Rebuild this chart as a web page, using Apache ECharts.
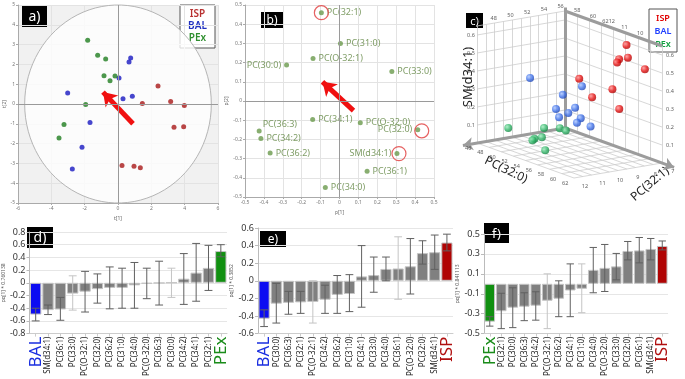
<!DOCTYPE html>
<html>
<head>
<meta charset="utf-8">
<script src="https://cdn.jsdelivr.net/npm/echarts@6.0.0/dist/echarts.min.js"></script>
<style>
    html, body {margin: 0; padding: 0; background: #fff;}
    #main {width: 685px; height: 379px;}
</style>
</head>
<body>
<div id="main"></div>
<script>
'use strict';

// ---------- a) scores t[1] / t[2] ----------
const scoreISP = [[2.4, 0.91], [3.16, 0.12], [3.98, -0.07], [1.46, 0.02], [3.36, -1.18], [3.94, -1.15], [0.24, -3.1], [0.96, -3.15], [1.34, -3.22]];
const scoreBAL = [[0.76, 2.32], [0.66, 2.12], [0.06, 1.31], [-3.02, 0.56], [0.3, 0.27], [0.86, 0.39], [-1.68, -0.93], [-2.16, -2.19], [-2.74, -3.28]];
const scorePEx = [[-1.82, 3.22], [-1.22, 2.46], [-0.74, 2.27], [-0.84, 1.43], [-0.18, 1.41], [-0.48, 1.18], [-1.94, -0.02], [-3.24, -1.04], [-3.54, -1.72]];
const ellipseR = [5.6, 5.0];
const arrowA = [[0.9, -1.0], [-0.9, 0.6]];

// ---------- b) loadings p[1] / p[2] ----------
const loadNames = ['PC(32:1)', 'PC(31:0)', 'PC(O-32:1)', 'PC(30:0)', 'PC(33:0)', 'PC(34:1)', 'PC(O-32:0)', 'PC(36:3)', 'PC(32:0)', 'PC(34:2)', 'PC(36:2)', 'SM(d34:1)', 'PC(36:1)', 'PC(34:0)'];
const loadX = [-0.096, 0.005, -0.14, -0.28, 0.277, -0.142, 0.11, -0.425, 0.414, -0.416, -0.367, 0.304, 0.146, -0.075];
const loadY = [0.46, 0.30, 0.222, 0.187, 0.153, -0.097, -0.113, -0.156, -0.15, -0.195, -0.271, -0.274, -0.366, -0.45];
const circled = ['PC(32:1)', 'PC(32:0)', 'SM(d34:1)'];
const arrowB = [[0.074, -0.05], [-0.09, 0.10]];

// ---------- c) 3D: PC(32:0), PC(32:1), SM(d34:1) ----------
const c3dISP = [[57.6, 7.5, 0.61], [57.1, 7.75, 0.53], [57.1, 7.25, 0.53], [57.5, 8.0, 0.52], [59.9, 7.25, 0.50], [52.7, 8.5, 0.38], [56.0, 7.75, 0.35], [54.1, 8.25, 0.29], [56.4, 7.5, 0.24]];
const c3dBAL = [[50.4, 10.5, 0.39], [54.6, 9.0, 0.37], [52.9, 9.5, 0.31], [54.2, 9.25, 0.25], [52.5, 9.75, 0.23], [53.8, 9.5, 0.22], [53.0, 9.75, 0.19], [54.4, 9.0, 0.19], [54.5, 9.25, 0.17], [55.3, 8.75, 0.15]];
const c3dPEx = [[49.7, 11.5, 0.12], [52.7, 10.5, 0.14], [55.3, 10.5, 0.17], [56.3, 10.5, 0.17], [53.8, 11.0, 0.11], [53.3, 11.25, 0.10], [53.7, 11.5, 0.10], [55.8, 11.5, 0.07]];
const cUTicks = [46, 48, 50, 52, 54, 56, 58, 60, 62];
const cVTicks = [7, 8, 9, 10, 11, 12];
const cWTicks = [0.1, 0.2, 0.3, 0.4, 0.5, 0.6];
const cTopLeft = ['46', '48', '50', '52', '54', '56'];
const cTopRight = ['58', '60', '6212', '11', '10'];

// ---------- d) BAL vs PEx ----------
const dCats = ['BAL', 'SM(d34:1)', 'PC(36:1)', 'PC(33:0)', 'PC(O-32:1)', 'PC(32:0)', 'PC(36:2)', 'PC(31:0)', 'PC(34:0)', 'PC(O-32:0)', 'PC(36:3)', 'PC(30:0)', 'PC(34:2)', 'PC(34:1)', 'PC(32:1)', 'PEx'];
const dVals = [-0.50, -0.43, -0.42, -0.17, -0.14, -0.10, -0.08, -0.08, -0.04, -0.015, -0.005, 0.003, 0.065, 0.16, 0.235, 0.50];
const dLow = [-0.60, -0.50, -0.59, -0.43, -0.46, -0.32, -0.41, -0.40, -0.40, -0.25, -0.35, -0.23, -0.34, -0.29, -0.12, 0.41];
const dHigh = [-0.40, -0.35, -0.23, 0.11, 0.18, 0.14, 0.25, 0.23, 0.32, 0.23, 0.34, 0.23, 0.46, 0.62, 0.59, 0.60];

// ---------- e) BAL vs ISP ----------
const eCats = ['BAL', 'PC(30:0)', 'PC(36:3)', 'PC(32:1)', 'PC(O-32:1)', 'PC(34:2)', 'PC(36:2)', 'PC(31:0)', 'PC(34:1)', 'PC(33:0)', 'PC(34:0)', 'PC(36:1)', 'PC(O-32:0)', 'PC(32:0)', 'SM(d34:1)', 'ISP'];
const eVals = [-0.43, -0.26, -0.25, -0.245, -0.24, -0.215, -0.16, -0.15, 0.05, 0.065, 0.135, 0.14, 0.165, 0.315, 0.325, 0.435];
const eLow = [-0.52, -0.48, -0.38, -0.37, -0.48, -0.37, -0.37, -0.35, -0.30, -0.13, 0.0, -0.21, -0.15, 0.19, 0.13, 0.34];
const eHigh = [-0.33, -0.03, -0.12, -0.12, 0.0, -0.05, 0.06, 0.07, 0.40, 0.27, 0.27, 0.50, 0.48, 0.455, 0.52, 0.53];

// ---------- f) PEx vs ISP ----------
const fCats = ['PEx', 'PC(32:1)', 'PC(30:0)', 'PC(36:3)', 'PC(34:2)', 'PC(O-32:1)', 'PC(36:2)', 'PC(34:1)', 'PC(31:0)', 'PC(34:0)', 'PC(O-32:0)', 'PC(33:0)', 'PC(32:0)', 'PC(36:1)', 'SM(d34:1)', 'ISP'];
const fVals = [-0.38, -0.275, -0.24, -0.23, -0.22, -0.17, -0.15, -0.067, -0.05, 0.14, 0.16, 0.175, 0.33, 0.335, 0.35, 0.38];
const fLow = [-0.425, -0.45, -0.44, -0.37, -0.365, -0.45, -0.33, -0.33, -0.29, -0.09, -0.077, 0.04, 0.24, 0.21, 0.24, 0.34];
const fHigh = [-0.33, -0.095, -0.04, -0.09, -0.08, 0.10, 0.03, 0.20, 0.20, 0.365, 0.395, 0.305, 0.425, 0.465, 0.455, 0.43];

// ================= styles =================
const FONT = 'Noto Sans';
const groupColor = {ISP: '#a81818', BAL: '#1818c0', PEx: '#1f7d1f'};
const barColor = {BAL: '#0c0cf2', PEx: '#119011', ISP: '#b00404'};
const labelColor = {BAL: '#1a2ee0', PEx: '#1a8c1a', ISP: '#b01010'};
const loadLabelPos = {'PC(30:0)': 'left', 'PC(32:0)': 'left', 'SM(d34:1)': 'left', 'PC(36:3)': [6, -9]};
const circleOffset = {'PC(32:0)': [4, 1], 'SM(d34:1)': [2, 0]};
const faintErr = [['PC(33:0)', 'PC(30:0)'], ['PC(O-32:1)', 'PC(36:1)'], ['PC(O-32:1)', 'PC(31:0)']];

let chart = echarts.init(document.getElementById('main'));

let fmt1 = v => Math.abs(v) < 1e-9 ? '0' : v.toFixed(1);
let tiny = {fontSize: 5, color: '#777', margin: 3};

//散点图坐标轴
function scatterAxis(gi, min, max, step, name, gap) {
    return {
        gridIndex: gi, type: 'value', min: min, max: max, interval: step,
        axisLine: {show: true, onZero: false, lineStyle: {color: '#aaa'}},
        axisTick: {show: true, length: 2, lineStyle: {color: '#aaa'}},
        axisLabel: Object.assign({formatter: v => Math.abs(v) < 1e-9 ? '0' : (step < 1 ? v.toFixed(1) : String(v))}, tiny),
        splitLine: {show: true, lineStyle: {color: '#e3e3e3'}},
        name: name, nameLocation: 'middle', nameGap: gap,
        nameTextStyle: {fontSize: 5, color: '#666'}
    };
}

//柱状图坐标轴
function barXAxis(gi, cats) {
    return {
        gridIndex: gi, type: 'category', data: cats,
        axisLine: {show: true, onZero: false, lineStyle: {color: '#ccc'}},
        axisTick: {show: true, alignWithLabel: true, length: 3, lineStyle: {color: '#ccc'}},
        axisLabel: {
            interval: 0, rotate: 90, fontSize: 8, color: '#222', margin: 3,
            formatter: v => barColor[v] ? '{' + v + '|' + v + '}' : v,
            rich: {
                BAL: {fontSize: 17, color: labelColor.BAL},
                PEx: {fontSize: 17, color: labelColor.PEx},
                ISP: {fontSize: 17, color: labelColor.ISP}
            }
        }
    };
}

function barYAxis(gi, min, max, name) {
    return {
        gridIndex: gi, type: 'value', min: min, max: max, interval: 0.2,
        axisLine: {show: true, lineStyle: {color: '#bbb'}},
        axisTick: {show: true, length: 3, lineStyle: {color: '#bbb'}},
        axisLabel: {fontSize: 9, color: '#333', margin: 4, formatter: fmt1, showMaxLabel: true},
        splitLine: {show: true, lineStyle: {color: '#e6e6e6'}},
        name: name, nameLocation: 'middle', nameGap: 22, nameRotate: 90,
        nameTextStyle: {fontSize: 5, color: '#555'}
    };
}

//误差线
function errSeries(gi, cats, lo, hi, faint) {
    return {
        type: 'custom', xAxisIndex: gi, yAxisIndex: gi, z: 4,
        data: cats.map((c, i) => [i, lo[i], hi[i]]),
        encode: {x: 0, y: [1, 2]},
        renderItem: function (params, api) {
            let i = api.value(0);
            let p1 = api.coord([i, api.value(1)]);
            let p2 = api.coord([i, api.value(2)]);
            let hw = api.size([1, 0])[0] * 0.32;
            let style = {stroke: faint.indexOf(cats[i]) >= 0 ? '#c4c4c4' : '#606060', lineWidth: 1};
            return {
                type: 'group', children: [
                    {type: 'line', shape: {x1: p1[0], y1: p1[1], x2: p2[0], y2: p2[1]}, style: style},
                    {type: 'line', shape: {x1: p1[0] - hw, y1: p1[1], x2: p1[0] + hw, y2: p1[1]}, style: style},
                    {type: 'line', shape: {x1: p2[0] - hw, y1: p2[1], x2: p2[0] + hw, y2: p2[1]}, style: style}
                ]
            };
        }
    };
}

function barSeries(gi, cats, vals) {
    return {
        type: 'bar', xAxisIndex: gi, yAxisIndex: gi, barCategoryGap: '8%',
        data: cats.map((c, i) => ({name: c, value: vals[i]})),
        itemStyle: {
            color: p => barColor[p.name] || '#808080',
            borderColor: '#c4c4c4', borderWidth: 1
        }
    };
}

// 3D 投影(伪透视)
function P(u, v, w) {
    let a = (u - 46) / 16, b = (v - 7) / 5;
    return [565 + 97 * a - 88 * b, 128 + 35 * a + 15 * b - 180 * w];
}
const wTop = 0.65;
let gridSegs = [];
for (let u = 46; u <= 62; u += 2) {
    gridSegs.push({coords: [P(u, 7, 0), P(u, 12, 0)]});
    gridSegs.push({coords: [P(u, 7, 0), P(u, 7, wTop)]});
}
for (let v = 7; v <= 12; v += 0.5) {
    gridSegs.push({coords: [P(46, v, 0), P(62, v, 0)]});
    gridSegs.push({coords: [P(46, v, 0), P(46, v, wTop)]});
}
cWTicks.concat([wTop]).forEach(w => {
    gridSegs.push({coords: [P(46, 7, w), P(46, 12, w)]});
    gridSegs.push({coords: [P(46, 7, w), P(62, 7, w)]});
});
let shift = (p, dx, dy) => [p[0] + dx, p[1] + dy];
let cLabels = [];
cUTicks.forEach(u => cLabels.push({name: String(u), value: shift(P(u, 12.5, 0), 0, 4)}));
cVTicks.forEach(v => cLabels.push({name: String(v), value: shift(P(63.8, v, 0), 0, 4)}));
cWTicks.forEach(w => {
    cLabels.push({name: w.toFixed(1), value: shift(P(46, 12, w), -6, 0)});
    cLabels.push({name: w.toFixed(1), value: shift(P(62, 7, w), 8, 0)});
});
cTopLeft.forEach((t, i) => cLabels.push({name: t, value: shift(P(46, 12 - i * 0.95, wTop), 0, -5)}));
cTopRight.forEach((t, i) => cLabels.push({name: t, value: shift(P(48 + i * 2.6, 7, wTop), 0, -5)}));

function sphere(c0, c1, c2) {
    return {
        type: 'radial', x: 0.35, y: 0.35, r: 0.75,
        colorStops: [{offset: 0, color: c0}, {offset: 0.55, color: c1}, {offset: 1, color: c2}]
    };
}

function tag(x, y, w, h, text, size) {
    return {
        type: 'group', x: x, y: y, children: [
            {type: 'rect', shape: {width: w, height: h}, style: {fill: '#000'}},
            {type: 'text', x: w / 2, y: h / 2 + 1, style: {text: text, fill: '#fff', font: size + 'px ' + FONT, align: 'center', verticalAlign: 'middle'}}
        ]
    };
}

function legendBox(x, y, w, h, size, colors, gap) {
    let kids = [{type: 'rect', shape: {width: w, height: h}, style: {fill: '#fff', stroke: '#555', lineWidth: 1}}];
    ['ISP', 'BAL', 'PEx'].forEach((n, i) => kids.push({
        type: 'text', x: w / 2, y: 9 + i * gap,
        style: {text: n, fill: colors[n], font: '600 ' + size + 'px ' + FONT, align: 'center', verticalAlign: 'middle'}
    }));
    return {type: 'group', x: x, y: y, children: kids};
}

let option = {
    animation: false,
    backgroundColor: '#fff',
    textStyle: {fontFamily: FONT},
    grid: [
        {left: 18, top: 5, width: 200, height: 198, show: true, backgroundColor: '#f1f1f1', borderWidth: 0},
        {left: 245, top: 5, width: 189, height: 192},
        {left: 450, top: 0, width: 235, height: 200},
        {left: 22, top: 232, width: 205, height: 105},
        {left: 258, top: 228, width: 195, height: 111},
        {left: 484, top: 234, width: 184, height: 102}
    ],
    xAxis: [
        scatterAxis(0, -6, 6, 2, 't[1]', 9),
        scatterAxis(1, -0.5, 0.5, 0.1, 'p[1]', 9),
        {gridIndex: 2, type: 'value', min: 450, max: 685, show: false},
        barXAxis(3, dCats),
        barXAxis(4, eCats),
        barXAxis(5, fCats)
    ],
    yAxis: [
        scatterAxis(0, -5, 5, 1, 't[2]', 9),
        scatterAxis(1, -0.5, 0.5, 0.1, 'p[2]', 14),
        {gridIndex: 2, type: 'value', min: 0, max: 200, inverse: true, show: false},
        barYAxis(3, -0.8, 0.8, 'pq[1] * 0.760138'),
        barYAxis(4, -0.6, 0.6, 'pq[1] * 0.3852'),
        barYAxis(5, -0.5, 0.5, 'pq[1] * 0.841113')
    ],
    series: [
        // a)
        {
            type: 'custom', xAxisIndex: 0, yAxisIndex: 0, z: 1, silent: true,
            data: [[0, 0]],
            renderItem: function (params, api) {
                let c = api.coord([0, 0]);
                let s = api.size(ellipseR);
                let pts = [];
                for (let k = 0; k <= 90; k++) {
                    let t = k / 90 * Math.PI * 2;
                    pts.push([c[0] + s[0] * Math.cos(t), c[1] + s[1] * Math.sin(t)]);
                }
                return {type: 'polygon', shape: {points: pts}, style: {fill: 'rgba(255,255,255,0.78)', stroke: '#b5b5b5', lineWidth: 1}};
            },
            markLine: {
                silent: true, symbol: 'none', label: {show: false},
                lineStyle: {color: '#9a9a9a', type: 'solid', width: 1},
                data: [{xAxis: 0}, {yAxis: 0}]
            }
        },
        {type: 'scatter', xAxisIndex: 0, yAxisIndex: 0, symbolSize: 5, z: 3, data: scoreISP, itemStyle: {color: groupColor.ISP}},
        {type: 'scatter', xAxisIndex: 0, yAxisIndex: 0, symbolSize: 5, z: 3, data: scoreBAL, itemStyle: {color: groupColor.BAL}},
        {type: 'scatter', xAxisIndex: 0, yAxisIndex: 0, symbolSize: 5, z: 3, data: scorePEx, itemStyle: {color: groupColor.PEx}},
        {
            type: 'lines', coordinateSystem: 'cartesian2d', xAxisIndex: 0, yAxisIndex: 0, z: 4,
            symbol: ['none', 'arrow'], symbolSize: 13,
            lineStyle: {color: '#f01010', width: 5, opacity: 1},
            data: [{coords: arrowA}]
        },
        // b)
        {
            type: 'scatter', xAxisIndex: 1, yAxisIndex: 1, symbolSize: 5, z: 3,
            itemStyle: {color: '#6a9a4c'},
            label: {show: true, formatter: '{b}', fontSize: 9, color: '#5f8440', distance: 3},
            data: loadNames.map((n, i) => ({
                name: n, value: [loadX[i], loadY[i]],
                label: {position: loadLabelPos[n] || 'right'}
            })),
            markLine: {
                silent: true, symbol: 'none', label: {show: false},
                lineStyle: {color: '#9a9a9a', type: 'solid', width: 1},
                data: [{xAxis: 0}, {yAxis: 0}]
            }
        },
        {
            type: 'scatter', xAxisIndex: 1, yAxisIndex: 1, symbolSize: 14, z: 4, silent: true,
            itemStyle: {color: 'rgba(0,0,0,0)', borderColor: '#e03a3a', borderWidth: 1.2},
            data: circled.map(n => {
                let i = loadNames.indexOf(n);
                return {value: [loadX[i], loadY[i]], symbolOffset: circleOffset[n] || [0, 0]};
            })
        },
        {
            type: 'lines', coordinateSystem: 'cartesian2d', xAxisIndex: 1, yAxisIndex: 1, z: 4,
            symbol: ['none', 'arrow'], symbolSize: 13,
            lineStyle: {color: '#f01010', width: 5, opacity: 1},
            data: [{coords: arrowB}]
        },
        // c)
        {
            type: 'lines', coordinateSystem: 'cartesian2d', xAxisIndex: 2, yAxisIndex: 2, z: 1, silent: true,
            lineStyle: {color: '#cdcdcd', width: 0.8, opacity: 1},
            data: gridSegs
        },
        {
            type: 'lines', coordinateSystem: 'cartesian2d', xAxisIndex: 2, yAxisIndex: 2, z: 2, silent: true,
            lineStyle: {color: '#9c9c9c', width: 3, opacity: 1},
            data: [{coords: [P(46, 7, 0), P(46, 7, wTop + 0.02)]}, {coords: [P(46, 7, wTop), P(62, 7, wTop)]}]
        },
        {
            type: 'lines', coordinateSystem: 'cartesian2d', xAxisIndex: 2, yAxisIndex: 2, z: 2, silent: true,
            symbol: ['none', 'arrow'], symbolSize: 10,
            lineStyle: {color: '#9c9c9c', width: 3, opacity: 1},
            data: [{coords: [P(46, 7, 0), P(46, 12.8, 0)]}, {coords: [P(46, 7, 0), P(64, 7, 0)]}]
        },
        {
            type: 'scatter', xAxisIndex: 2, yAxisIndex: 2, symbolSize: 0, z: 2, silent: true,
            label: {show: true, position: 'inside', formatter: '{b}', fontSize: 5.5, color: '#333'},
            data: cLabels
        },
        {
            type: 'scatter', xAxisIndex: 2, yAxisIndex: 2, symbolSize: 8, z: 5,
            itemStyle: {color: sphere('#ff9090', '#e41010', '#a00000')},
            data: c3dISP.map(p => P(p[0], p[1], p[2]))
        },
        {
            type: 'scatter', xAxisIndex: 2, yAxisIndex: 2, symbolSize: 8, z: 6,
            itemStyle: {color: sphere('#a8c4ff', '#3d6fe8', '#1c40a8')},
            data: c3dBAL.map(p => P(p[0], p[1], p[2]))
        },
        {
            type: 'scatter', xAxisIndex: 2, yAxisIndex: 2, symbolSize: 8, z: 7,
            itemStyle: {color: sphere('#9cecbc', '#2fb366', '#137a3e')},
            data: c3dPEx.map(p => P(p[0], p[1], p[2]))
        },
        // d) e) f)
        barSeries(3, dCats, dVals), errSeries(3, dCats, dLow, dHigh, faintErr[0]),
        barSeries(4, eCats, eVals), errSeries(4, eCats, eLow, eHigh, faintErr[1]),
        barSeries(5, fCats, fVals), errSeries(5, fCats, fLow, fHigh, faintErr[2])
    ],
    graphic: [
        tag(22, 5, 25, 22, 'a)', 14),
        tag(261, 12, 22, 16, 'b)', 12),
        tag(466, 13, 17, 15, 'c)', 11),
        tag(27, 227, 26, 21, 'd)', 14),
        tag(260, 231, 26, 16, 'e)', 12),
        tag(484, 223, 25, 20, 'f)', 13),
        legendBox(180, 5, 35, 43, 10, {ISP: '#b83030', BAL: '#2030c0', PEx: '#2f8f2f'}, 12),
        legendBox(649, 9, 28, 43, 9, {ISP: '#e00000', BAL: '#2040ff', PEx: '#10a040'}, 13),
        {type: 'text', x: 468, y: 77, rotation: Math.PI / 2, style: {text: 'SM(d34:1)', font: '13px ' + FONT, fill: '#222', align: 'center', verticalAlign: 'middle'}},
        {type: 'text', x: 506, y: 170, rotation: -0.45, style: {text: 'PC(32:0)', font: '12px ' + FONT, fill: '#222', align: 'center', verticalAlign: 'middle'}},
        {type: 'text', x: 650, y: 184, rotation: 0.7, style: {text: 'PC(32:1)', font: '12px ' + FONT, fill: '#222', align: 'center', verticalAlign: 'middle'}}
    ]
};

chart.setOption(option);
</script>
</body>
</html>
